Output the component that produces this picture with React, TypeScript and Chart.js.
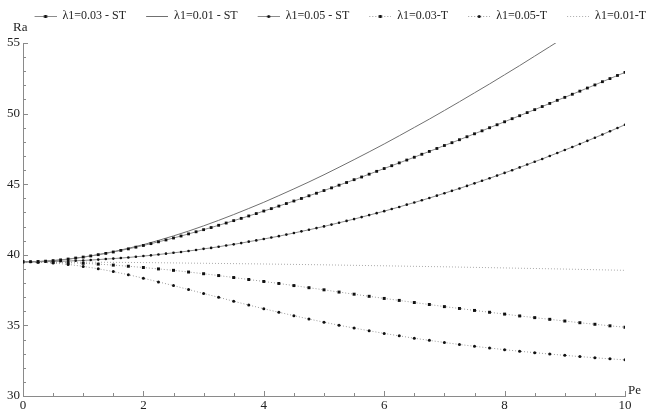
import { useEffect, useRef } from "react";
import { Chart, registerables } from "chart.js";

Chart.register(...registerables);

// ---- data ----
const PE_FINE = [0, 0.125, 0.25, 0.375, 0.5, 0.625, 0.75, 0.875, 1, 1.125, 1.25, 1.375, 1.5, 1.625, 1.75, 1.875, 2, 2.125, 2.25, 2.375, 2.5, 2.625, 2.75, 2.875, 3, 3.125, 3.25, 3.375, 3.5, 3.625, 3.75, 3.875, 4, 4.125, 4.25, 4.375, 4.5, 4.625, 4.75, 4.875, 5, 5.125, 5.25, 5.375, 5.5, 5.625, 5.75, 5.875, 6, 6.125, 6.25, 6.375, 6.5, 6.625, 6.75, 6.875, 7, 7.125, 7.25, 7.375, 7.5, 7.625, 7.75, 7.875, 8, 8.125, 8.25, 8.375, 8.5, 8.625, 8.75, 8.875, 9, 9.125, 9.25, 9.375, 9.5, 9.625, 9.75, 9.875, 10];
const PE = [0, 0.25, 0.5, 0.75, 1, 1.25, 1.5, 1.75, 2, 2.25, 2.5, 2.75, 3, 3.25, 3.5, 3.75, 4, 4.25, 4.5, 4.75, 5, 5.25, 5.5, 5.75, 6, 6.25, 6.5, 6.75, 7, 7.25, 7.5, 7.75, 8, 8.25, 8.5, 8.75, 9, 9.25, 9.5, 9.75, 10];
const PE_COARSE = [0, 1, 2, 3, 4, 5, 6, 7, 8, 9, 10];

const RA_003_ST = [39.50, 39.51, 39.52, 39.55, 39.59, 39.64, 39.70, 39.77, 39.84, 39.92, 40.01, 40.10, 40.20, 40.31, 40.42, 40.54, 40.66, 40.79, 40.92, 41.05, 41.19, 41.33, 41.48, 41.63, 41.78, 41.93, 42.09, 42.25, 42.42, 42.58, 42.75, 42.92, 43.10, 43.27, 43.45, 43.63, 43.81, 43.99, 44.18, 44.36, 44.55, 44.74, 44.93, 45.12, 45.32, 45.51, 45.71, 45.91, 46.11, 46.31, 46.51, 46.71, 46.91, 47.12, 47.32, 47.53, 47.74, 47.94, 48.15, 48.36, 48.57, 48.78, 49.00, 49.21, 49.42, 49.64, 49.85, 50.07, 50.28, 50.50, 50.72, 50.94, 51.15, 51.37, 51.59, 51.81, 52.03, 52.26, 52.48, 52.70, 52.92];
const RA_001_ST = [39.50, 39.52, 39.59, 39.69, 39.83, 40.01, 40.22, 40.46, 40.72, 41.02, 41.34, 41.68, 42.05, 42.44, 42.85, 43.28, 43.72, 44.19, 44.67, 45.16, 45.67, 46.20, 46.74, 47.29, 47.85, 48.43, 49.02, 49.61, 50.22, 50.84, 51.47, 52.10, 52.75, 53.40, 54.07, 54.74, 55.41];
const RA_005_ST = [39.50, 39.50, 39.51, 39.51, 39.53, 39.54, 39.56, 39.58, 39.60, 39.63, 39.66, 39.70, 39.73, 39.77, 39.81, 39.86, 39.91, 39.96, 40.02, 40.08, 40.14, 40.20, 40.27, 40.34, 40.42, 40.49, 40.57, 40.66, 40.74, 40.83, 40.93, 41.02, 41.12, 41.22, 41.32, 41.43, 41.54, 41.66, 41.77, 41.89, 42.01, 42.14, 42.27, 42.40, 42.53, 42.67, 42.81, 42.95, 43.09, 43.24, 43.39, 43.55, 43.70, 43.86, 44.02, 44.19, 44.36, 44.53, 44.70, 44.88, 45.06, 45.24, 45.42, 45.61, 45.80, 45.99, 46.19, 46.39, 46.59, 46.79, 47.00, 47.21, 47.42, 47.63, 47.85, 48.07, 48.29, 48.52, 48.75, 48.98, 49.21];
const RA_003_T = [39.50, 39.49, 39.47, 39.44, 39.40, 39.34, 39.27, 39.19, 39.10, 39.00, 38.90, 38.78, 38.66, 38.53, 38.39, 38.25, 38.11, 37.97, 37.82, 37.67, 37.52, 37.36, 37.21, 37.06, 36.91, 36.77, 36.62, 36.48, 36.33, 36.20, 36.06, 35.93, 35.80, 35.67, 35.55, 35.43, 35.31, 35.19, 35.08, 34.97, 34.87];
const RA_005_T = [39.50, 39.48, 39.42, 39.32, 39.18, 39.01, 38.81, 38.59, 38.34, 38.08, 37.82, 37.54, 37.26, 36.99, 36.71, 36.44, 36.18, 35.93, 35.69, 35.45, 35.23, 35.01, 34.81, 34.62, 34.43, 34.26, 34.09, 33.94, 33.79, 33.65, 33.52, 33.40, 33.28, 33.17, 33.07, 32.97, 32.88, 32.79, 32.71, 32.63, 32.56];
const RA_001_T = [39.50, 39.48, 39.45, 39.40, 39.35, 39.29, 39.22, 39.15, 39.07, 38.99, 38.90];

const SERIES_LABELS = ["λ1=0.03 - ST", "λ1=0.01 - ST", "λ1=0.05 - ST", "λ1=0.03-T", "λ1=0.05-T", "λ1=0.01-T"];
const X_TICKS = [0, 2, 4, 6, 8, 10];
const Y_TICKS = [30, 35, 40, 45, 50, 55];
const X_AXIS_LABEL = "Pe";
const Y_AXIS_LABEL = "Ra";

const FONT = "'Liberation Serif', 'DejaVu Serif', serif";

const toPts = (xs: number[], ys: number[]) => ys.map((y, i) => ({ x: xs[i], y }));

function makeIcon(color: string, dash: number[], marker: string | null) {
  const c = document.createElement("canvas");
  c.width = 32;
  c.height = 8;
  const g = c.getContext("2d")!;
  g.strokeStyle = color;
  g.lineWidth = 1;
  g.setLineDash(dash);
  g.beginPath();
  g.moveTo(10, 4.5);
  g.lineTo(32, 4.5);
  g.stroke();
  g.setLineDash([]);
  g.fillStyle = "#111";
  if (marker === "rect") g.fillRect(19.5, 3, 3, 3);
  if (marker === "circle") {
    g.beginPath();
    g.arc(21, 4.5, 1.6, 0, Math.PI * 2);
    g.fill();
  }
  return c;
}

const axisDecor = {
  id: "axisDecor",
  afterDraw(chart: any) {
    const { ctx, chartArea } = chart;
    const x = chart.scales.x;
    const y = chart.scales.y;
    ctx.save();
    ctx.strokeStyle = "#8a8a8a";
    ctx.lineWidth = 1;
    ctx.beginPath();
    for (let i = 0; i <= 20; i++) {
      const v = i * 0.5;
      const px = Math.round(x.getPixelForValue(v)) + 0.5;
      const len = X_TICKS.includes(v) ? 5 : 3;
      ctx.moveTo(px, chartArea.bottom);
      ctx.lineTo(px, chartArea.bottom - len);
    }
    for (let v = 30; v <= 55; v++) {
      const py = Math.round(y.getPixelForValue(v)) + 0.5;
      const len = Y_TICKS.includes(v) ? 5 : 3;
      ctx.moveTo(chartArea.left, py);
      ctx.lineTo(chartArea.left + len, py);
    }
    ctx.stroke();
    ctx.fillStyle = "#222";
    ctx.font = `13px ${FONT}`;
    ctx.textAlign = "left";
    ctx.textBaseline = "bottom";
    ctx.fillText(Y_AXIS_LABEL, chartArea.left - 10, chartArea.top - 9);
    ctx.fillText(X_AXIS_LABEL, chartArea.right + 3, chartArea.bottom + 1);
    ctx.restore();
  },
};

export default function App() {
  const ref = useRef<HTMLCanvasElement | null>(null);

  useEffect(() => {
    if (!ref.current) return;
    const lineGray = "#8c8c8c";
    const dotGray = "#9a9a9a";
    const icons = [
      makeIcon(lineGray, [], "rect"),
      makeIcon("#707070", [], null),
      makeIcon(lineGray, [], "circle"),
      makeIcon(dotGray, [1, 2], "rect"),
      makeIcon(dotGray, [1, 2], "circle"),
      makeIcon("#aaaaaa", [1, 2], null),
    ];
    const chart = new Chart(ref.current, {
      type: "line",
      data: {
        datasets: [
          {
            label: SERIES_LABELS[0],
            data: toPts(PE_FINE, RA_003_ST),
            borderColor: lineGray,
            borderWidth: 1,
            pointStyle: "rect",
            pointRadius: 2.0,
            pointBackgroundColor: "#111",
            pointBorderWidth: 0,
          },
          {
            label: SERIES_LABELS[1],
            data: toPts(PE, RA_001_ST),
            borderColor: "#707070",
            borderWidth: 1,
            pointRadius: 0,
          },
          {
            label: SERIES_LABELS[2],
            data: toPts(PE_FINE, RA_005_ST),
            borderColor: lineGray,
            borderWidth: 1,
            pointStyle: "circle",
            pointRadius: 1.3,
            pointBackgroundColor: "#111",
            pointBorderWidth: 0,
          },
          {
            label: SERIES_LABELS[3],
            data: toPts(PE, RA_003_T),
            borderColor: dotGray,
            borderWidth: 1,
            borderDash: [1, 2],
            pointStyle: "rect",
            pointRadius: 2.1,
            pointBackgroundColor: "#111",
            pointBorderWidth: 0,
          },
          {
            label: SERIES_LABELS[4],
            data: toPts(PE, RA_005_T),
            borderColor: dotGray,
            borderWidth: 1,
            borderDash: [1, 2],
            pointStyle: "circle",
            pointRadius: 1.5,
            pointBackgroundColor: "#111",
            pointBorderWidth: 0,
          },
          {
            label: SERIES_LABELS[5],
            data: toPts(PE_COARSE, RA_001_T),
            borderColor: "#aaaaaa",
            borderWidth: 1,
            borderDash: [1, 2],
            pointRadius: 0,
          },
        ],
      },
      options: {
        animation: false,
        responsive: true,
        maintainAspectRatio: false,
        events: [],
        layout: { padding: 0 },
        elements: { line: { tension: 0 } },
        plugins: {
          tooltip: { enabled: false },
          title: {
            display: true,
            text: "",
            weight: 500,
            font: { size: 1, lineHeight: 1 },
            padding: { top: 0, bottom: 10 },
          } as any,
          legend: {
            display: true,
            position: "top",
            align: "end",
            labels: {
              usePointStyle: true,
              pointStyleWidth: 32,
              padding: 10,
              color: "#222",
              font: { family: FONT, size: 12 },
              generateLabels: (ch: any) =>
                ch.data.datasets.map((ds: any, i: number) => ({
                  text: ds.label,
                  pointStyle: icons[i],
                  fillStyle: "#111",
                  strokeStyle: "#111",
                  lineWidth: 0,
                  hidden: false,
                  datasetIndex: i,
                  fontColor: "#222",
                })),
            },
          },
        },
        scales: {
          x: {
            type: "linear",
            min: 0,
            max: 10,
            afterBuildTicks: (s: any) => {
              s.ticks = X_TICKS.map((v) => ({ value: v }));
            },
            afterFit: (s: any) => {
              s.height = 15;
            },
            grid: { display: false, drawTicks: false },
            border: { display: true, color: "#8a8a8a", width: 1 },
            ticks: {
              padding: 2,
              color: "#222",
              font: { family: FONT, size: 13 },
              maxRotation: 0,
              autoSkip: false,
            },
          },
          y: {
            type: "linear",
            min: 30,
            max: 55,
            afterBuildTicks: (s: any) => {
              s.ticks = Y_TICKS.map((v) => ({ value: v }));
            },
            afterFit: (s: any) => {
              s.width = 23;
            },
            grid: { display: false, drawTicks: false },
            border: { display: true, color: "#8a8a8a", width: 1 },
            ticks: {
              padding: 3,
              color: "#222",
              font: { family: FONT, size: 13 },
              autoSkip: false,
            },
          },
          yRight: {
            type: "linear",
            position: "right",
            min: 30,
            max: 55,
            afterFit: (s: any) => {
              s.width = 31;
            },
            grid: { display: false, drawTicks: false },
            border: { display: false },
            ticks: { display: false },
          },
        },
      },
      plugins: [axisDecor],
    });
    return () => chart.destroy();
  }, []);

  return (
    <div style={{ position: "fixed", left: 0, top: 0, width: 656, height: 411, background: "#fff" }}>
      <canvas ref={ref} />
    </div>
  );
}
